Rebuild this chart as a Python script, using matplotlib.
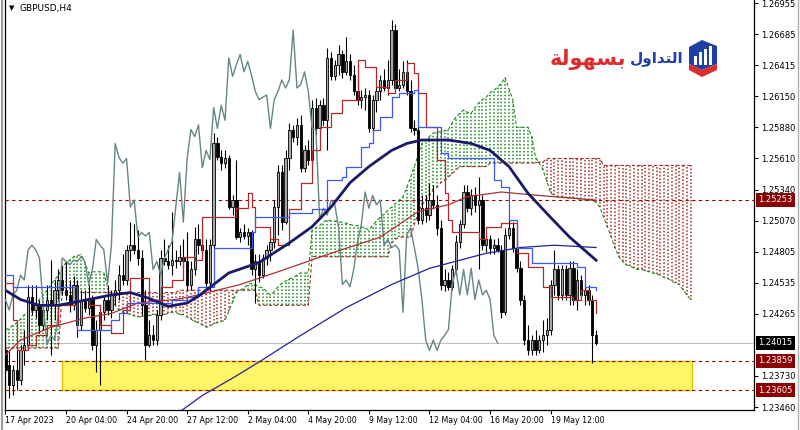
import matplotlib
matplotlib.use("Agg")
import matplotlib.pyplot as plt
import matplotlib.transforms as mtransforms
from matplotlib.patches import Rectangle, Polygon
from matplotlib.lines import Line2D
import numpy as np

# ---------------- data (GBPUSD, H4) ----------------
opens = [1.2395, 1.2382, 1.2365, 1.2378, 1.2369, 1.2395, 1.2400, 1.2441, 1.2430, 1.2434,
         1.2417, 1.2430, 1.2439, 1.2434, 1.2447, 1.2456, 1.2447, 1.2443, 1.2434, 1.2452,
         1.2417, 1.2439, 1.2432, 1.2440, 1.2400, 1.2413, 1.2428, 1.2439, 1.2430, 1.2443,
         1.2447, 1.2460, 1.2456, 1.2482, 1.2486, 1.2482, 1.2475, 1.2434, 1.2400, 1.2408,
         1.2404, 1.2426, 1.2475, 1.2472, 1.2469, 1.2473, 1.2472, 1.2476, 1.2472, 1.2452,
         1.2465, 1.2491, 1.2486, 1.2482, 1.2453, 1.2486, 1.2574, 1.2562, 1.2557, 1.2561,
         1.2519, 1.2525, 1.2493, 1.2497, 1.2494, 1.2497, 1.2465, 1.2472, 1.2460, 1.2475,
         1.2482, 1.2489, 1.2519, 1.2549, 1.2506, 1.2561, 1.2586, 1.2580, 1.2590, 1.2553,
         1.2568, 1.2560, 1.2605, 1.2587, 1.2607, 1.2594, 1.2648, 1.2632, 1.2642, 1.2651,
         1.2636, 1.2645, 1.2633, 1.2619, 1.2612, 1.2614, 1.2616, 1.2587, 1.2612, 1.2619,
         1.2629, 1.2622, 1.2629, 1.2672, 1.2622, 1.2625, 1.2636, 1.2619, 1.2587, 1.2586,
         1.2508, 1.2518, 1.2512, 1.2525, 1.2521, 1.2501, 1.2452, 1.2456, 1.2450, 1.2465,
         1.2489, 1.2504, 1.2532, 1.2518, 1.2529, 1.2521, 1.2525, 1.2486, 1.2491, 1.2484,
         1.2486, 1.2482, 1.2428, 1.2495, 1.2501, 1.2484, 1.2466, 1.2439, 1.2404, 1.2395,
         1.2404, 1.2395, 1.2404, 1.2408, 1.2413, 1.2452, 1.2465, 1.2443, 1.2465, 1.2443,
         1.2466, 1.2439, 1.2456, 1.2443, 1.2447, 1.2439, 1.2408]
highs = [1.2417, 1.2395, 1.2382, 1.2395, 1.2400, 1.2413, 1.2452, 1.2452, 1.2452, 1.2439,
         1.2434, 1.2452, 1.2473, 1.2456, 1.2465, 1.2469, 1.2472, 1.2456, 1.2459, 1.2456,
         1.2447, 1.2447, 1.2452, 1.2443, 1.2421, 1.2434, 1.2443, 1.2452, 1.2447, 1.2456,
         1.2469, 1.2478, 1.2486, 1.2506, 1.2504, 1.2499, 1.2482, 1.2447, 1.2421, 1.2417,
         1.2430, 1.2482, 1.2491, 1.2486, 1.2515, 1.2482, 1.2486, 1.2491, 1.2497, 1.2472,
         1.2502, 1.2504, 1.2499, 1.2491, 1.2491, 1.2583, 1.2580, 1.2568, 1.2568, 1.2564,
         1.2529, 1.2560, 1.2501, 1.2504, 1.2501, 1.2499, 1.2478, 1.2478, 1.2478, 1.2486,
         1.2492, 1.2525, 1.2555, 1.2555, 1.2568, 1.2592, 1.2590, 1.2596, 1.2599, 1.2573,
         1.2577, 1.2612, 1.2613, 1.2612, 1.2613, 1.2657, 1.2653, 1.2646, 1.2659, 1.2655,
         1.2666, 1.2651, 1.2642, 1.2629, 1.2620, 1.2622, 1.2620, 1.2616, 1.2625, 1.2633,
         1.2638, 1.2646, 1.2681, 1.2677, 1.2638, 1.2645, 1.2646, 1.2629, 1.2594, 1.2590,
         1.2529, 1.2529, 1.2540, 1.2538, 1.2529, 1.2508, 1.2465, 1.2463, 1.2469, 1.2495,
         1.2508, 1.2538, 1.2538, 1.2535, 1.2536, 1.2545, 1.2529, 1.2495, 1.2495, 1.2491,
         1.2492, 1.2486, 1.2501, 1.2508, 1.2506, 1.2491, 1.2472, 1.2443, 1.2417, 1.2408,
         1.2413, 1.2408, 1.2421, 1.2423, 1.2456, 1.2482, 1.2469, 1.2469, 1.2469, 1.2472,
         1.2472, 1.2465, 1.2460, 1.2454, 1.2452, 1.2443, 1.2413]
lows = [1.2369, 1.2354, 1.2356, 1.2361, 1.2365, 1.2382, 1.2395, 1.2426, 1.2423, 1.2410,
        1.2413, 1.2421, 1.2391, 1.2421, 1.2439, 1.2443, 1.2439, 1.2428, 1.2430, 1.2407,
        1.2413, 1.2428, 1.2426, 1.2395, 1.2376, 1.2365, 1.2421, 1.2426, 1.2423, 1.2434,
        1.2439, 1.2452, 1.2452, 1.2472, 1.2478, 1.2469, 1.2426, 1.2387, 1.2398, 1.2400,
        1.2400, 1.2421, 1.2469, 1.2465, 1.2460, 1.2466, 1.2469, 1.2466, 1.2447, 1.2447,
        1.2460, 1.2478, 1.2478, 1.2447, 1.2447, 1.2484, 1.2560, 1.2551, 1.2553, 1.2517,
        1.2512, 1.2491, 1.2489, 1.2491, 1.2486, 1.2460, 1.2436, 1.2454, 1.2458, 1.2469,
        1.2472, 1.2484, 1.2495, 1.2499, 1.2504, 1.2551, 1.2575, 1.2573, 1.2549, 1.2549,
        1.2555, 1.2555, 1.2581, 1.2584, 1.2590, 1.2568, 1.2629, 1.2629, 1.2633, 1.2631,
        1.2633, 1.2629, 1.2616, 1.2607, 1.2605, 1.2603, 1.2584, 1.2586, 1.2601, 1.2612,
        1.2619, 1.2616, 1.2625, 1.2619, 1.2619, 1.2622, 1.2616, 1.2584, 1.2581, 1.2504,
        1.2504, 1.2506, 1.2508, 1.2517, 1.2495, 1.2447, 1.2446, 1.2447, 1.2447, 1.2460,
        1.2484, 1.2501, 1.2515, 1.2512, 1.2515, 1.2465, 1.2482, 1.2480, 1.2478, 1.2478,
        1.2480, 1.2423, 1.2426, 1.2491, 1.2480, 1.2463, 1.2434, 1.2400, 1.2391, 1.2391,
        1.2391, 1.2393, 1.2394, 1.2400, 1.2408, 1.2443, 1.2439, 1.2439, 1.2439, 1.2434,
        1.2434, 1.2430, 1.2439, 1.2434, 1.2434, 1.2384, 1.2400]
closes = [1.2378, 1.2365, 1.2378, 1.2369, 1.2395, 1.2400, 1.2441, 1.2430, 1.2434, 1.2417,
          1.2430, 1.2439, 1.2434, 1.2447, 1.2456, 1.2447, 1.2443, 1.2434, 1.2452, 1.2417,
          1.2439, 1.2432, 1.2440, 1.2400, 1.2413, 1.2428, 1.2439, 1.2430, 1.2443, 1.2447,
          1.2460, 1.2456, 1.2482, 1.2486, 1.2482, 1.2475, 1.2434, 1.2400, 1.2408, 1.2404,
          1.2426, 1.2475, 1.2472, 1.2469, 1.2473, 1.2472, 1.2476, 1.2472, 1.2452, 1.2465,
          1.2491, 1.2486, 1.2482, 1.2453, 1.2486, 1.2574, 1.2562, 1.2557, 1.2561, 1.2519,
          1.2525, 1.2493, 1.2497, 1.2494, 1.2497, 1.2465, 1.2472, 1.2460, 1.2475, 1.2482,
          1.2489, 1.2519, 1.2549, 1.2506, 1.2561, 1.2586, 1.2580, 1.2590, 1.2553, 1.2568,
          1.2560, 1.2605, 1.2587, 1.2607, 1.2594, 1.2648, 1.2632, 1.2642, 1.2651, 1.2636,
          1.2645, 1.2633, 1.2619, 1.2612, 1.2614, 1.2616, 1.2587, 1.2612, 1.2619, 1.2629,
          1.2622, 1.2629, 1.2672, 1.2622, 1.2625, 1.2636, 1.2619, 1.2587, 1.2586, 1.2508,
          1.2518, 1.2512, 1.2525, 1.2521, 1.2501, 1.2452, 1.2456, 1.2450, 1.2465, 1.2489,
          1.2504, 1.2532, 1.2518, 1.2529, 1.2521, 1.2525, 1.2486, 1.2491, 1.2484, 1.2486,
          1.2482, 1.2428, 1.2495, 1.2501, 1.2484, 1.2466, 1.2439, 1.2404, 1.2395, 1.2404,
          1.2395, 1.2404, 1.2408, 1.2413, 1.2452, 1.2465, 1.2443, 1.2465, 1.2443, 1.2466,
          1.2439, 1.2456, 1.2443, 1.2447, 1.2439, 1.2408, 1.24015]

# Ichimoku cloud (already displaced 26 bars forward), one value per bar 0..181
senkou_a = [1.2413, 1.2414, 1.2417, 1.2419, 1.2422, 1.2426, 1.2428, 1.2432, 1.2434, 1.2439,
            1.2443, 1.2447, 1.2452, 1.2456, 1.2460, 1.2466, 1.2471, 1.2473, 1.2476, 1.2477,
            1.2478, 1.2471, 1.2462, 1.2463, 1.2463, 1.2463, 1.2462, 1.2450, 1.2439, 1.2434,
            1.2430, 1.2428, 1.2427, 1.2426, 1.2425, 1.2424, 1.2424, 1.2425, 1.2425, 1.2426,
            1.2426, 1.2426, 1.2426, 1.2427, 1.2428, 1.2428, 1.2426, 1.2426, 1.2424, 1.2422,
            1.2420, 1.2419, 1.2417, 1.2415, 1.2416, 1.2418, 1.2419, 1.2420, 1.2421, 1.2429,
            1.2437, 1.2445, 1.2447, 1.2449, 1.2452, 1.2453, 1.2452, 1.2450, 1.2449, 1.2446,
            1.2443, 1.2446, 1.2450, 1.2453, 1.2455, 1.2457, 1.2458, 1.2460, 1.2462, 1.2462,
            1.2462, 1.2499, 1.2501, 1.2503, 1.2506, 1.2508, 1.2507, 1.2507, 1.2506, 1.2506,
            1.2505, 1.2504, 1.2503, 1.2503, 1.2502, 1.2501, 1.2499, 1.2503, 1.2507, 1.2510,
            1.2513, 1.2516, 1.2519, 1.2522, 1.2525, 1.2528, 1.2536, 1.2545, 1.2554, 1.2564,
            1.2574, 1.2577, 1.2580, 1.2583, 1.2584, 1.2584, 1.2585, 1.2586, 1.2592, 1.2597,
            1.2600, 1.2603, 1.2601, 1.2600, 1.2605, 1.2609, 1.2612, 1.2614, 1.2618, 1.2620,
            1.2623, 1.2626, 1.2631, 1.2621, 1.2612, 1.2588, 1.2588, 1.2588, 1.2588, 1.2580,
            1.2562, 1.2557, 1.2551, 1.2541, 1.2531, 1.2529, 1.2528, 1.2528, 1.2527, 1.2527,
            1.2527, 1.2526, 1.2526, 1.2525, 1.2525, 1.2525, 1.2523, 1.2519, 1.2510, 1.2502,
            1.2493, 1.2484, 1.2476, 1.2472, 1.2469, 1.2468, 1.2466, 1.2465, 1.2465, 1.2464,
            1.2463, 1.2462, 1.2461, 1.2460, 1.2458, 1.2457, 1.2455, 1.2453, 1.2452, 1.2447,
            1.2443, 1.2439]
senkou_b = [1.2397, 1.2397, 1.2397, 1.2397, 1.2397, 1.2397, 1.2397, 1.2397, 1.2397, 1.2397,
            1.2397, 1.2397, 1.2397, 1.2397, 1.2397, 1.2445, 1.2445, 1.2445, 1.2445, 1.2445,
            1.2445, 1.2445, 1.2445, 1.2445, 1.2445, 1.2445, 1.2445, 1.2445, 1.2445, 1.2445,
            1.2445, 1.2445, 1.2445, 1.2445, 1.2445, 1.2445, 1.2445, 1.2445, 1.2445, 1.2445,
            1.2445, 1.2445, 1.2445, 1.2445, 1.2445, 1.2445, 1.2447, 1.2447, 1.2447, 1.2447,
            1.2447, 1.2447, 1.2447, 1.2447, 1.2447, 1.2447, 1.2447, 1.2447, 1.2447, 1.2447,
            1.2447, 1.2447, 1.2447, 1.2447, 1.2447, 1.2447, 1.2447, 1.2434, 1.2434, 1.2434,
            1.2434, 1.2434, 1.2434, 1.2434, 1.2434, 1.2434, 1.2434, 1.2434, 1.2434, 1.2434,
            1.2434, 1.2476, 1.2476, 1.2476, 1.2476, 1.2476, 1.2476, 1.2476, 1.2476, 1.2476,
            1.2476, 1.2476, 1.2476, 1.2476, 1.2476, 1.2476, 1.2476, 1.2476, 1.2476, 1.2476,
            1.2476, 1.2476, 1.2488, 1.2491, 1.2493, 1.2493, 1.2493, 1.2493, 1.2504, 1.2514,
            1.2521, 1.2525, 1.2529, 1.2534, 1.2536, 1.2540, 1.2542, 1.2545, 1.2548, 1.2551,
            1.2554, 1.2554, 1.2554, 1.2554, 1.2554, 1.2554, 1.2554, 1.2554, 1.2557, 1.2557,
            1.2557, 1.2557, 1.2557, 1.2557, 1.2557, 1.2557, 1.2557, 1.2557, 1.2557, 1.2557,
            1.2557, 1.2558, 1.2558, 1.2561, 1.2561, 1.2561, 1.2561, 1.2561, 1.2561, 1.2561,
            1.2561, 1.2561, 1.2561, 1.2561, 1.2561, 1.2561, 1.2561, 1.2561, 1.2555, 1.2555,
            1.2555, 1.2555, 1.2555, 1.2555, 1.2555, 1.2555, 1.2555, 1.2555, 1.2555, 1.2555,
            1.2555, 1.2555, 1.2555, 1.2555, 1.2555, 1.2555, 1.2555, 1.2555, 1.2555, 1.2555,
            1.2555, 1.2555]

tenkan_bars = [0, 2, 3, 6, 8, 11, 14, 19, 22, 25, 28, 31, 33, 37, 38, 41, 44, 47, 50, 52,
               61, 64, 65, 66, 70, 72, 75, 78, 81, 83, 86, 89, 93, 95, 98, 101, 103, 106,
               108, 109, 111, 114, 116, 117, 118, 125, 127, 131, 135, 138, 142, 144, 150,
               152, 154, 156]
tenkan_vals = [1.2453, 1.2421, 1.2395, 1.2400, 1.2408, 1.2417, 1.2434, 1.2439, 1.2434, 1.2417,
               1.2410, 1.2430, 1.2458, 1.2458, 1.2439, 1.2450, 1.2456, 1.2476, 1.2473, 1.2510,
               1.2518, 1.2531, 1.2519, 1.2502, 1.2491, 1.2486, 1.2517, 1.2540, 1.2568, 1.2588,
               1.2600, 1.2612, 1.2646, 1.2640, 1.2623, 1.2618, 1.2629, 1.2644, 1.2635, 1.2618,
               1.2588, 1.2560, 1.2531, 1.2508, 1.2497, 1.2491, 1.2502, 1.2505, 1.2479, 1.2467,
               1.2450, 1.2441, 1.2439, 1.2447, 1.2439, 1.2427]
kijun_bars = [0, 2, 18, 19, 25, 28, 30, 32, 44, 48, 51, 54, 55, 62, 65, 66, 74, 75, 81, 84,
              85, 89, 90, 94, 96, 97, 99, 102, 104, 108, 109, 113, 115, 117, 127, 129, 131,
              133, 135, 139, 145, 151, 153, 156]
kijun_vals = [1.2460, 1.2450, 1.2450, 1.2413, 1.2413, 1.2421, 1.2427, 1.2436, 1.2439, 1.2441,
              1.2450, 1.2450, 1.2484, 1.2484, 1.2497, 1.2510, 1.2510, 1.2514, 1.2517, 1.2517,
              1.2542, 1.2545, 1.2554, 1.2571, 1.2574, 1.2586, 1.2597, 1.2614, 1.2618, 1.2620,
              1.2588, 1.2588, 1.2566, 1.2561, 1.2561, 1.2542, 1.2536, 1.2508, 1.2484, 1.2471,
              1.2471, 1.2467, 1.2450, 1.2447]
chikou_shift = 26

ma_thick_bars = [0, 4, 9, 14, 22, 28, 33, 38, 43, 48, 51, 59, 67, 75, 81, 86, 91, 96, 102,
                 106, 110, 117, 123, 128, 133, 138, 144, 149, 156]
ma_thick_vals = [1.2447, 1.2439, 1.2434, 1.2434, 1.2439, 1.2443, 1.2445, 1.2440, 1.2433, 1.2436,
                 1.2442, 1.2462, 1.2471, 1.2488, 1.2502, 1.2519, 1.2540, 1.2554, 1.2568,
                 1.2574, 1.2577, 1.2577, 1.2574, 1.2568, 1.2554, 1.2531, 1.2510, 1.2493, 1.2473]
ma_red_bars = [0, 4, 12, 21, 28, 35, 45, 51, 62, 72, 86, 99, 109, 117, 122, 131, 141, 156]
ma_red_vals = [1.2391, 1.2404, 1.2415, 1.2423, 1.2427, 1.2436, 1.2439, 1.2443, 1.2452, 1.2463,
               1.2479, 1.2493, 1.2515, 1.2521, 1.2528, 1.2532, 1.2529, 1.2525]
ma_navy_bars = [44, 52, 60, 67, 78, 90, 102, 112, 120, 127, 136, 145, 156]
ma_navy_vals = [1.2337, 1.2356, 1.2371, 1.2385, 1.2408, 1.2432, 1.2452, 1.2466, 1.2473, 1.2479,
                1.2484, 1.2486, 1.2484]

tick_bars = [0, 16, 32, 48, 64, 80, 96, 112, 128, 144]
tick_labels = ["17 Apr 2023", "20 Apr 04:00", "24 Apr 20:00", "27 Apr 12:00", "2 May 04:00",
               "4 May 20:00", "9 May 12:00", "12 May 04:00", "16 May 20:00", "19 May 12:00"]
price_ticks = [1.26955, 1.26685, 1.26415, 1.26150, 1.25880, 1.25610, 1.25340, 1.25070,
               1.24805, 1.24535, 1.24265, 1.23730, 1.23460]

level_resistance = 1.25253
level_zone_top = 1.23859
level_zone_bottom = 1.23605
last_price = 1.24015
zone_start_bar = 15
zone_end_bar = 181.3

# Arabic logo text, stored in presentation forms in visual (left-to-right) order
# so that it renders connected: "بسهولة" (red) and "التداول" (blue)
logo_red = "\ufe94\ufedf\ufeee\ufeec\ufeb4\ufe91"
logo_blue = "\ufedd\ufeed\ufe8d\ufeaa\ufe98\ufedf\ufe8d"

# ---------------- figure ----------------
W, H = 800, 430
fig = plt.figure(figsize=(W / 100, H / 100), dpi=100)
fig.patch.set_facecolor("white")
ax = fig.add_axes([5 / W, 20 / H, 749 / W, 410 / H])
ax.set_facecolor("white")
ax.set_xlim(-0.1, 197.7)
ax.set_ylim(1.234345, 1.26981)

o = np.array(opens); h = np.array(highs); l = np.array(lows); c = np.array(closes)
bars = np.arange(len(c))

# zone rectangle (background)
ax.add_patch(Rectangle((zone_start_bar, level_zone_bottom), zone_end_bar - zone_start_bar,
                       level_zone_top - level_zone_bottom, facecolor="#fff566",
                       edgecolor="#e0c000", lw=1.0, zorder=1))

# horizontal levels
for lv in (level_resistance, level_zone_top, level_zone_bottom):
    ax.axhline(lv, color="#9a0000", lw=0.8, ls=(0, (3, 3)), zorder=2)
ax.axhline(last_price, color="#c0c0c0", lw=0.8, zorder=2)

# cloud: dotted vertical hatch per bar
sa = np.array(senkou_a); sb = np.array(senkou_b)
cb = np.arange(len(sa))
bull = sa >= sb
ax.vlines(cb[bull], sb[bull], sa[bull], colors="#1a8a1a", lw=1.1, linestyles=(0, (1, 1.3)), zorder=3)
ax.vlines(cb[~bull], sa[~bull], sb[~bull], colors="#a32a22", lw=1.1, linestyles=(0, (1, 1.3)), zorder=3)
ax.plot(cb, sa, color="#1a8a1a", lw=0.8, ls=(0, (3, 2)), zorder=3)
ax.plot(cb, sb, color="#a52a2a", lw=0.8, ls=(0, (3, 2)), zorder=3)

# candles
up = c >= o
ax.vlines(bars, l, h, colors="black", lw=0.8, zorder=4)
ax.bar(bars[up], c[up] - o[up], bottom=o[up], width=0.62, color="#a8a8a8",
       edgecolor="black", lw=0.6, zorder=5)
ax.bar(bars[~up], c[~up] - o[~up], bottom=o[~up], width=0.62, color="black",
       edgecolor="black", lw=0.6, zorder=5)

# indicator lines
ax.plot(bars[chikou_shift:] - chikou_shift, c[chikou_shift:], color="#668686", lw=1.0, zorder=6)
ax.plot(ma_red_bars, ma_red_vals, color="#a83232", lw=0.9, zorder=6)
ax.plot(ma_navy_bars, ma_navy_vals, color="#22229a", lw=0.9, zorder=6)
ax.plot(tenkan_bars, tenkan_vals, color="#b02a2a", lw=0.9, drawstyle="steps-post", zorder=7)
ax.plot(kijun_bars, kijun_vals, color="#3a58ff", lw=0.9, drawstyle="steps-post", zorder=7)
ax.plot(ma_thick_bars, ma_thick_vals, color="#1a1a6a", lw=2.0, zorder=8)

# axes styling
ax.spines["top"].set_visible(False)
for s in ("left", "right", "bottom"):
    ax.spines[s].set_color("black")
    ax.spines[s].set_linewidth(0.9)
ax.yaxis.tick_right()
ax.set_yticks(price_ticks)
ax.set_yticklabels([f"{p:.5f}" for p in price_ticks])
ax.tick_params(axis="y", direction="out", length=3, width=0.8, pad=2, labelsize=6.0, colors="black")
ax.set_xticks(tick_bars)
ax.set_xticklabels(tick_labels)
ax.tick_params(axis="x", direction="out", length=3, width=0.8, pad=1.5, labelsize=5.7)
for lab in ax.get_xticklabels():
    lab.set_horizontalalignment("left")

trans = mtransforms.blended_transform_factory(ax.transAxes, ax.transData)
for val, col in ((level_resistance, "#8b0000"), (last_price, "black"),
                 (level_zone_top, "#8b0000"), (level_zone_bottom, "#8b0000")):
    ax.text(1.0055, val, f"{val:.5f}", transform=trans, fontsize=6.0, color="white",
            va="center", ha="left", clip_on=False, zorder=10,
            bbox=dict(boxstyle="square,pad=0.28", fc=col, ec="none"))

# title
fig.text(9 / W, 1 - 8 / H, "\u25bc", fontsize=5, va="center", ha="left")
fig.text(20 / W, 1 - 8 / H, "GBPUSD,H4", fontsize=6.5, va="center", ha="left")

# window borders
fig.add_artist(Line2D([1.5 / W, 1.5 / W], [0, 1], color="#9a9a9a", lw=1.5))
fig.add_artist(Line2D([798 / W, 798 / W], [0, 1], color="#b0b0b0", lw=1.0))

# logo
fig.text(626 / W, 1 - 59 / H, logo_red, fontsize=15, fontweight="bold", color="#e02b2b",
         ha="right", va="center", family=["DejaVu Sans"])
fig.text(630 / W, 1 - 59 / H, logo_blue, fontsize=11, fontweight="bold", color="#1e3fa8",
         ha="left", va="center", family=["DejaVu Sans"])

def fp(pts):
    return [(x / W, 1 - y / H) for x, y in pts]

fig.add_artist(Polygon(fp([(689, 47), (702, 40), (717, 46), (717, 64), (702, 70), (689, 64)]),
                       closed=True, fc="#1e3fa8", ec="none", transform=fig.transFigure))
fig.add_artist(Polygon(fp([(689, 64), (702, 70), (717, 64), (717, 70), (702, 77), (689, 70)]),
                       closed=True, fc="#e02b2b", ec="none", transform=fig.transFigure))
for bx, top in ((694, 56), (699, 52), (704, 49), (709, 46)):
    fig.add_artist(Rectangle((bx / W, 1 - 65 / H), 2.5 / W, (65 - top) / H, fc="white",
                             ec="none", transform=fig.transFigure))

fig.savefig("out.png", dpi=100)
